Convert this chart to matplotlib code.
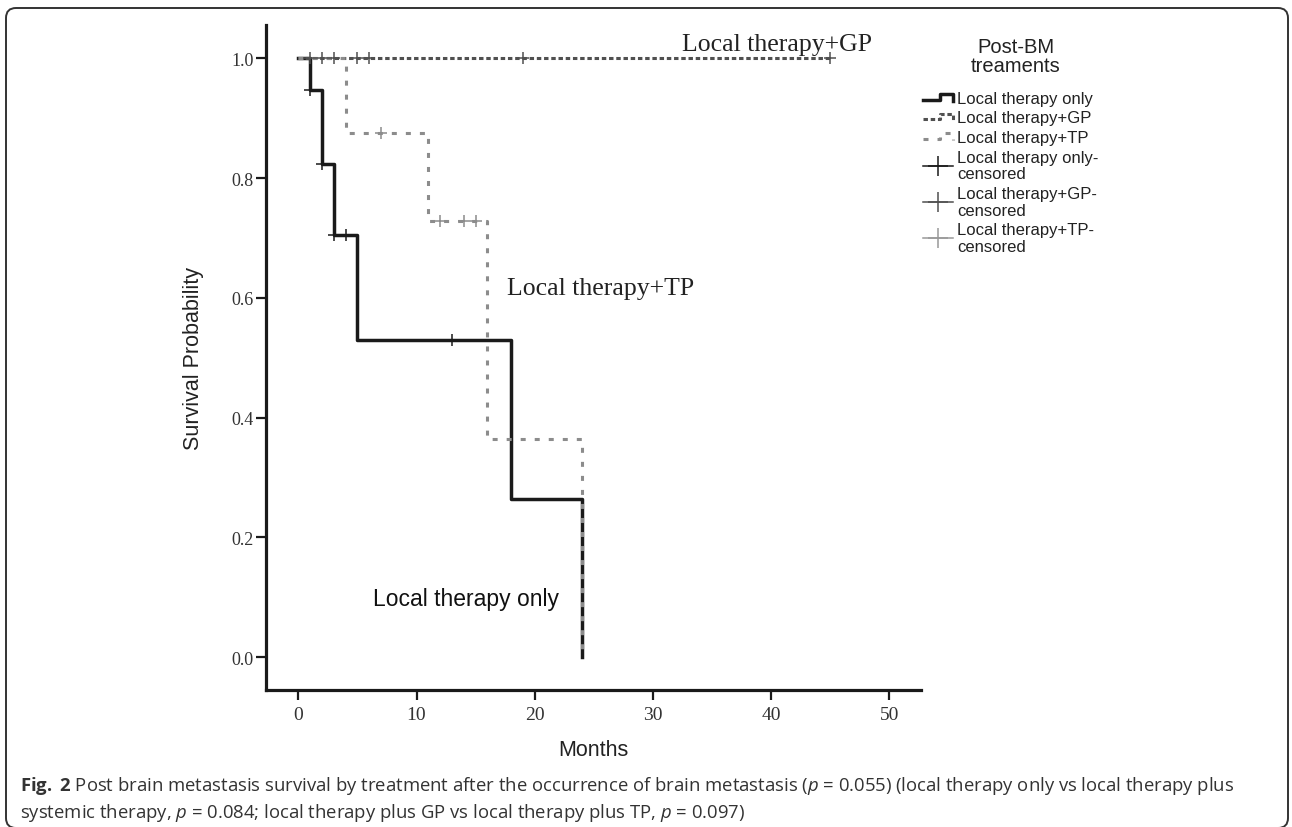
import matplotlib
matplotlib.use('Agg')
import matplotlib.pyplot as plt
from matplotlib.lines import Line2D
from matplotlib.legend_handler import HandlerBase
from matplotlib.patches import FancyBboxPatch
from matplotlib.transforms import IdentityTransform

plt.rcParams['font.family'] = ['Liberation Sans', 'DejaVu Sans']
plt.rcParams['lines.scale_dashes'] = False
plt.rcParams['mathtext.fontset'] = 'custom'
plt.rcParams['mathtext.rm'] = 'Open Sans'
plt.rcParams['mathtext.it'] = 'Open Sans:italic'
plt.rcParams['mathtext.bf'] = 'Open Sans:bold'

# Kaplan-Meier steps (months, survival)
only_t = [0, 1, 2, 3, 5, 18, 24]
only_s = [1.0, 0.947, 0.823, 0.705, 0.529, 0.264, 0.0]
gp_t = [0, 45]
gp_s = [1.0, 1.0]
tp_t = [0, 4, 11, 16, 24]
tp_s = [1.0, 0.875, 0.729, 0.365, 0.0]

# censored marks
only_cens_t = [1, 2, 3, 4, 13]
only_cens_s = [0.947, 0.823, 0.705, 0.705, 0.529]
gp_cens_t = [1, 2, 3, 5, 6, 19, 45]
gp_cens_s = [1.0, 1.0, 1.0, 1.0, 1.0, 1.0, 1.0]
tp_cens_t = [7, 12, 14, 15]
tp_cens_s = [0.875, 0.729, 0.729, 0.729]

xticks = [0, 10, 20, 30, 40, 50]
yticks = [0.0, 0.2, 0.4, 0.6, 0.8, 1.0]

c_only = '#1a1a1a'
c_gp = '#505050'
c_tp = '#8c8c8c'

W, H = 1292, 828
fig = plt.figure(figsize=(W / 100, H / 100), dpi=100)
ax = fig.add_axes([265.7 / W, 1 - 691 / H, (921.2 - 265.7) / W, (691 - 26) / H])

l_only, = ax.step(only_t, only_s, where='post', color=c_only, lw=2.5, zorder=3)
l_gp, = ax.step(gp_t, gp_s, where='post', color=c_gp, lw=2.2, dashes=(3.2, 2.0), zorder=4)
l_tp, = ax.step(tp_t, tp_s, where='post', color=c_tp, lw=2.2, dashes=(3.6, 6.5), zorder=5)

ax.plot(only_cens_t, only_cens_s, ls='none', marker='+', ms=9, mew=1.1, color=c_only, zorder=6)
ax.plot(gp_cens_t, gp_cens_s, ls='none', marker='+', ms=9, mew=1.1, color=c_gp, zorder=6)
ax.plot(tp_cens_t, tp_cens_s, ls='none', marker='+', ms=9, mew=1.1, color=c_tp, zorder=6)

ax.set_xlim(-2.76, 52.7)
ax.set_ylim(-0.0546, 1.0556)
ax.set_xticks(xticks)
ax.set_yticks(yticks)
ax.set_xticklabels([str(v) for v in xticks], family='Liberation Serif', fontsize=14, color='#333')
ax.set_yticklabels(['%.1f' % v for v in yticks], family='Liberation Serif', fontsize=13, color='#333')
for s in ['top', 'right']:
    ax.spines[s].set_visible(False)
for s in ['left', 'bottom']:
    ax.spines[s].set_linewidth(2.3)
    ax.spines[s].set_color('#1a1a1a')
ax.tick_params(axis='both', direction='out', length=7.5, width=1.6, color='#1a1a1a')
ax.tick_params(axis='y', pad=1)
ax.tick_params(axis='x', pad=4)

ax.set_xlabel('Months', fontsize=15.5, color='#222')
ax.xaxis.set_label_coords(0.5, -0.074)
ax.set_ylabel('Survival Probability', fontsize=15.5, color='#222')
ax.yaxis.set_label_coords(-0.094, 0.5)

# curve labels
ax.text(32.5, 1.014, 'Local therapy+GP', family='Liberation Serif', fontsize=18.5,
        color='#222', va='baseline', clip_on=False)
ax.text(17.64, 0.6065, 'Local therapy+TP', family='Liberation Serif', fontsize=18.5,
        color='#222', va='baseline')
ax.text(6.3, 0.0873, 'Local therapy only', fontsize=16.5, color='#111', va='baseline')


class StepHandler(HandlerBase):
    # small step shape like the SPSS legend keys
    def create_artists(self, legend, orig_handle, xdescent, ydescent, width, height, fontsize, trans):
        x0 = -xdescent
        c = -ydescent + height / 2
        xs = [x0, x0 + 0.55 * width, x0 + 0.55 * width, x0 + width, x0 + width]
        ys = [c - 2.0, c - 2.0, c + 2.2, c + 2.2, c - 2.4]
        ln = Line2D(xs, ys)
        ln.update_from(orig_handle)
        ln.set_drawstyle('default')
        ln.set_marker('none')
        ln.set_clip_on(False)
        ln.set_clip_box(None)
        ln.set_transform(trans)
        return [ln]


def cens_proxy(color):
    return Line2D([], [], color=color, lw=1.1, marker='+', ms=14, mew=1.1)


handles = [l_only, l_gp, l_tp, cens_proxy(c_only), cens_proxy(c_gp), cens_proxy('#999999')]
labels = ['Local therapy only', 'Local therapy+GP', 'Local therapy+TP',
          'Local therapy only-\ncensored', 'Local therapy+GP-\ncensored', 'Local therapy+TP-\ncensored']
leg = ax.legend(handles, labels, loc='upper left', bbox_to_anchor=(923 / W, 1 - 92 / H),
                bbox_transform=fig.transFigure, frameon=False, fontsize=12,
                handler_map={l_only: StepHandler(), l_gp: StepHandler(), l_tp: StepHandler()},
                handlelength=1.8, handletextpad=0.25, labelspacing=0.27,
                borderpad=0, borderaxespad=0, numpoints=1)
for t in leg.get_texts():
    t.set_color('#222')
    t.set_linespacing(1.15)

fig.text(1016 / W, 1 - 57 / H, 'Post-BM\ntreaments', fontsize=14.5, color='#222',
         ha='center', va='center', multialignment='center', linespacing=1.05)

# caption
fig.text(20 / W, 1 - 791 / H,
         r'$\mathbf{Fig.}$ $\mathbf{2}$ Post brain metastasis survival by treatment after the occurrence of brain '
         r'metastasis ($p$ = 0.055) (local therapy only vs local therapy plus',
         family='Open Sans', fontsize=13.3, color='#333', va='baseline')
fig.text(20 / W, 1 - 818 / H,
         r'systemic therapy, $p$ = 0.084; local therapy plus GP vs local therapy plus TP, $p$ = 0.097)',
         family='Open Sans', fontsize=13.3, color='#333', va='baseline')

# rounded frame
frame = FancyBboxPatch((6, -1), 1282, 820, boxstyle='round,pad=0,rounding_size=10',
                       transform=IdentityTransform(), fill=False, lw=1.4, ec='#333')
fig.add_artist(frame)

fig.savefig('out.png', dpi=100)
